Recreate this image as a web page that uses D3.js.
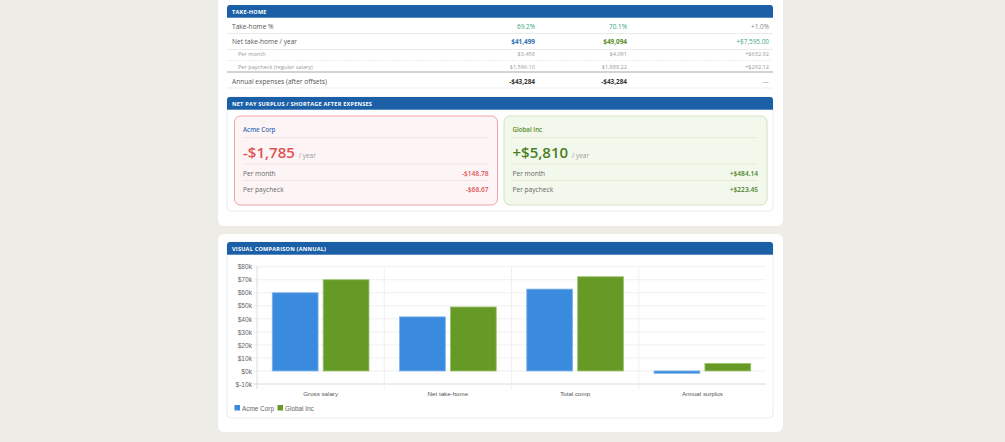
<!DOCTYPE html>
<html>
<head>
<meta charset="utf-8">
<script src="https://cdn.jsdelivr.net/npm/d3@7"></script>
<style>
  html, body { margin: 0; padding: 0; background: #edece7; }
  svg { display: block; }
  .ui { font-family: "Open Sans", "Noto Sans", sans-serif; }
  .ax { font-family: "Liberation Sans", Arial, sans-serif; }
</style>
</head>
<body>
<svg id="page" width="1005" height="442"></svg>
<script>
// ---------- DATA ----------
const companies = ["Acme Corp", "Global Inc"];
const seriesColors = ["#3a8ade", "#649a25"];

// Take-home table
const tableLabels = ["Take-home %", "Net take-home / year", "Per month", "Per paycheck (regular salary)", "Annual expenses (after offsets)"];
const tableAcme = ["69.2%", "$41,499", "$3,458", "$1,596.10", "-$43,284"];
const tableGlobal = ["70.1%", "$49,094", "$4,091", "$1,888.22", "-$43,284"];
const tableDiff = ["+1.0%", "+$7,595.00", "+$632.92", "+$292.12", "—"];

// Surplus cards
const surplusAnnual = ["-$1,785", "+$5,810"];
const surplusMonth = ["-$148.78", "+$484.14"];
const surplusPaycheck = ["-$68.67", "+$223.45"];

// Chart
const chartCategories = ["Gross salary", "Net take-home", "Total comp", "Annual surplus"];
const acmeValues = [60000, 41499, 62800, -1785];
const globalValues = [70000, 49094, 72300, 5810];
const yTickValues = [-10000, 0, 10000, 20000, 30000, 40000, 50000, 60000, 70000, 80000];
const yTickLabels = ["$-10k", "$0k", "$10k", "$20k", "$30k", "$40k", "$50k", "$60k", "$70k", "$80k"];

// ---------- DRAW ----------
const svg = d3.select("#page");

// Cards
svg.append("rect").attr("x", 218).attr("y", -20).attr("width", 565).attr("height", 246)
  .attr("rx", 6).attr("fill", "#ffffff");
svg.append("rect").attr("x", 218).attr("y", 234).attr("width", 565).attr("height", 198)
  .attr("rx", 6).attr("fill", "#ffffff");

function header(y, text) {
  const g = svg.append("g");
  g.append("path")
    .attr("d", `M227,${y + 13} L227,${y + 3} Q227,${y} 230,${y} L770,${y} Q773,${y} 773,${y + 3} L773,${y + 13} Z`)
    .attr("fill", "#1b5fa6");
  g.append("line").attr("x1", 227).attr("x2", 773).attr("y1", y + 12.5).attr("y2", y + 12.5)
    .attr("stroke", "#5b8cc4").attr("stroke-width", 1);
  g.append("text").attr("class", "ui").attr("x", 232).attr("y", y + 6.6)
    .attr("dominant-baseline", "central")
    .attr("font-size", 5.6).attr("font-weight", 700).attr("fill", "#ffffff")
    .attr("letter-spacing", 0.2).text(text);
}

// ---- Take-home table ----
header(5, "TAKE-HOME");
const rowY = [26, 41.6, 54.4, 66.6, 81];
const sepY = [33.5, 49.5, 60.5, 72, 88];
const sepStyle = [
  { c: "#e4e4e4", w: 0.8, d: null },
  { c: "#e4e4e4", w: 0.8, d: null },
  { c: "#dddddd", w: 0.7, d: "1.5,1.5" },
  { c: "#c4c4c4", w: 1.3, d: null },
  { c: "#e8e8e8", w: 0.8, d: null }
];
const isSub = [false, false, true, true, false];
const tbl = svg.append("g").attr("class", "ui");
tableLabels.forEach((lab, i) => {
  const s = sepStyle[i];
  tbl.append("line").attr("x1", 227).attr("x2", 773).attr("y1", sepY[i]).attr("y2", sepY[i])
    .attr("stroke", s.c).attr("stroke-width", s.w).attr("stroke-dasharray", s.d);
  tbl.append("text").attr("x", isSub[i] ? 238 : 232).attr("y", rowY[i])
    .attr("dominant-baseline", "central")
    .attr("font-size", isSub[i] ? 5.6 : 6.6)
    .attr("fill", isSub[i] ? "#9a9a9a" : "#555555").text(lab);
});
const colX = [535, 627, 769];
const colData = [tableAcme, tableGlobal, tableDiff];
const cellColor = (c, i) => {
  if (i === 0) return c === 2 ? "#8a8a8a" : "#3aa57d";
  if (i === 1) return ["#2e6bb0", "#5a8a26", "#3aa57d"][c];
  if (i === 4) return c === 2 ? "#9a9a9a" : "#333333";
  return "#9a9a9a";
};
colData.forEach((col, c) => {
  col.forEach((v, i) => {
    tbl.append("text").attr("x", colX[c]).attr("y", rowY[i])
      .attr("text-anchor", "end").attr("dominant-baseline", "central")
      .attr("font-size", isSub[i] ? 5.6 : 6.4)
      .attr("font-weight", (i === 1 || i === 4) && c < 2 ? 700 : 400)
      .attr("fill", cellColor(c, i)).text(v);
  });
});

// ---- Surplus section ----
svg.append("rect").attr("x", 227).attr("y", 97).attr("width", 546).attr("height", 114)
  .attr("rx", 4).attr("fill", "#ffffff").attr("stroke", "#e3e7ec").attr("stroke-width", 0.8);
header(97, "NET PAY SURPLUS / SHORTAGE AFTER EXPENSES");

const cardX = [234.5, 504];
const cardW = [263, 263];
const cardFill = ["#fdf5f5", "#f3f8ec"];
const cardStroke = ["#f0a3a3", "#d2e2bf"];
const nameColor = ["#3a72b8", "#5a8a2a"];
const valColor = ["#e05252", "#4a7f1f"];
companies.forEach((name, i) => {
  const g = svg.append("g").attr("class", "ui");
  const x0 = cardX[i], x1 = cardX[i] + cardW[i];
  g.append("rect").attr("x", x0).attr("y", 116).attr("width", cardW[i]).attr("height", 89)
    .attr("rx", 6).attr("fill", cardFill[i]).attr("stroke", cardStroke[i]).attr("stroke-width", 1);
  g.append("text").attr("x", x0 + 8.5).attr("y", 129.5).attr("dominant-baseline", "central")
    .attr("font-size", 6.2).attr("font-weight", 600).attr("fill", nameColor[i]).text(name);
  [137.7, 164.2, 180.5].forEach(y => {
    g.append("line").attr("x1", x0 + 8.5).attr("x2", x1 - 9).attr("y1", y).attr("y2", y)
      .attr("stroke", i === 0 ? "#f0e2e2" : "#e2ead8").attr("stroke-width", 0.9);
  });
  const big = g.append("text").attr("x", x0 + 8.5).attr("y", 157.6)
    .attr("font-size", 15).attr("font-weight", 600).attr("fill", valColor[i]);
  big.append("tspan").text(surplusAnnual[i]);
  big.append("tspan").attr("dx", 4).attr("font-size", 6.4).attr("font-weight", 400)
    .attr("fill", "#9a9a9a").text("/ year");
  [["Per month", surplusMonth[i], 173], ["Per paycheck", surplusPaycheck[i], 189]].forEach(([lab, v, y]) => {
    g.append("text").attr("x", x0 + 8.5).attr("y", y).attr("dominant-baseline", "central")
      .attr("font-size", 6.6).attr("fill", "#666666").text(lab);
    g.append("text").attr("x", x1 - 9).attr("y", y).attr("dominant-baseline", "central")
      .attr("text-anchor", "end").attr("font-size", 6.6).attr("font-weight", 600)
      .attr("fill", valColor[i]).text(v);
  });
});

// ---- Chart section ----
svg.append("rect").attr("x", 227).attr("y", 242).attr("width", 546).attr("height", 176)
  .attr("rx", 4).attr("fill", "#ffffff").attr("stroke", "#e3e7ec").attr("stroke-width", 0.8);
header(242, "VISUAL COMPARISON (ANNUAL)");

const plotL = 257, plotR = 766;
const y = d3.scaleLinear().domain([-10000, 80000]).range([384, 266.7]);
const x = d3.scaleBand().domain(chartCategories).range([plotL, plotR]).paddingInner(0).paddingOuter(0);
const xs = d3.scaleBand().domain(companies).range([0.1 * x.bandwidth(), 0.9 * x.bandwidth()])
  .paddingInner(0.1).paddingOuter(0.05);

const ch = svg.append("g");
// horizontal grid
ch.selectAll("line.hg").data(yTickValues).join("line")
  .attr("x1", plotL - 4).attr("x2", plotR)
  .attr("y1", d => y(d)).attr("y2", d => y(d))
  .attr("stroke", d => d === -10000 ? "#dcdcdc" : "#ececec").attr("stroke-width", d => d === -10000 ? 1 : 0.8);
// vertical grid at band boundaries
ch.selectAll("line.vg").data(chartCategories).join("line")
  .attr("x1", d => x(d)).attr("x2", d => x(d))
  .attr("y1", y(80000)).attr("y2", y(-10000) + 5)
  .attr("stroke", (d, i) => i === 0 ? "#dcdcdc" : "#ececec").attr("stroke-width", (d, i) => i === 0 ? 1 : 0.8);

// y axis labels
const yAxis = d3.axisLeft(y).tickValues(yTickValues).tickSize(0).tickPadding(0)
  .tickFormat((d, i) => yTickLabels[i]);
const ya = ch.append("g").attr("transform", `translate(${plotL - 5},0)`).call(yAxis);
ya.select(".domain").remove();
ya.selectAll("text").attr("class", "ax").attr("font-size", 6.6).attr("fill", "#666666").attr("dy", "0.33em");

// x axis labels
const xAxis = d3.axisBottom(x).tickSize(0).tickPadding(0);
const xa = ch.append("g").attr("transform", `translate(0,${y(-10000) + 7.5})`).call(xAxis);
xa.select(".domain").remove();
xa.selectAll("text").attr("class", "ax").attr("font-size", 6.2).attr("fill", "#555555");

// bars
const seriesValues = [acmeValues, globalValues];
companies.forEach((co, s) => {
  ch.append("g").selectAll("rect").data(chartCategories.map((c, i) => ({ c, v: seriesValues[s][i] })))
    .join("rect")
    .attr("x", d => x(d.c) + xs(co))
    .attr("width", xs.bandwidth())
    .attr("y", d => Math.min(y(0), y(d.v)))
    .attr("height", d => Math.abs(y(d.v) - y(0)))
    .attr("fill", seriesColors[s])
    .attr("stroke", s === 0 ? "#7fb3ea" : "#9cc46d").attr("stroke-width", 0.8);
});

// legend
const lg = svg.append("g").attr("class", "ax");
const legX = [234.5, 277.5];
companies.forEach((co, i) => {
  lg.append("rect").attr("x", legX[i]).attr("y", 405).attr("width", 5.5).attr("height", 5.5)
    .attr("fill", seriesColors[i]);
  lg.append("text").attr("x", legX[i] + 7.5).attr("y", 408).attr("dominant-baseline", "central")
    .attr("font-size", 6.4).attr("fill", "#666666").text(co);
});
</script>
</body>
</html>
